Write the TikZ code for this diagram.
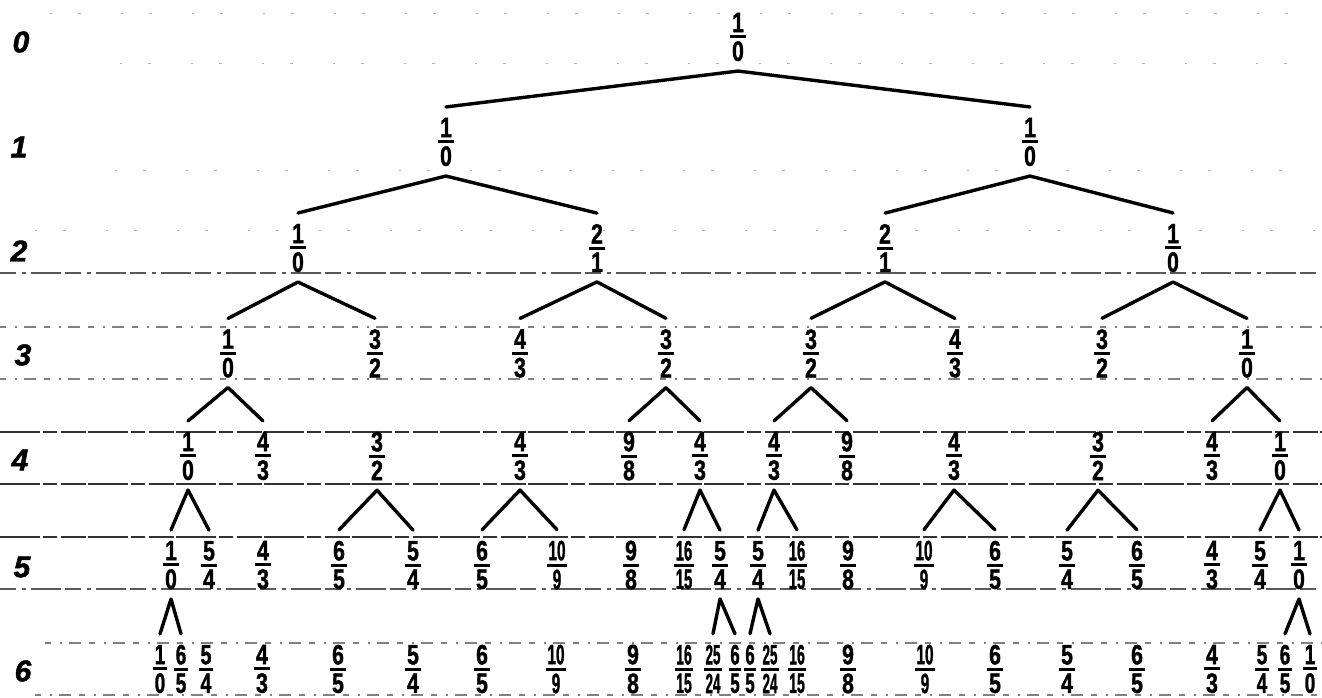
\documentclass[tikz,border=0pt]{standalone}
\usepackage{fontspec}
\setmainfont{Liberation Sans}[BoldFeatures={FakeBold=1.5}, BoldItalicFeatures={FakeBold=1.5}]
\usepackage{graphicx}
\newcommand\myfrac[3][0.76]{\scalebox{#1}[1]{\vbox{\offinterlineskip\halign{\hfil\kern2.5pt##\kern2.5pt\hfil\cr #2\cr\noalign{\kern3pt}\omit\leaders\hrule height 3pt\hfill\cr\noalign{\kern3pt}#3\cr}}}}
\tikzset{
  frac/.style={inner sep=0pt, outer sep=0pt, font=\fontsize{28}{28}\selectfont\bfseries},
  lab/.style={inner sep=0pt, outer sep=0pt, font=\fontsize{30}{30}\selectfont\bfseries\itshape},
  branch/.style={line width=3.4pt, line join=round, line cap=round},
  rulea/.style={black!80, line width=1.6pt, dash pattern=on 40pt off 3pt on 14pt off 4pt on 25pt off 2pt},
  ruleb/.style={black!65, line width=1.4pt, dash pattern=on 16pt off 6pt on 4pt off 5pt on 30pt off 4pt},
  rulec/.style={black!50, line width=1.2pt, dash pattern=on 6pt off 9pt on 2pt off 7pt on 12pt off 8pt},
  ruled/.style={black!30, line width=1pt, dash pattern=on 2pt off 26pt on 3pt off 40pt},
}
\begin{document}
\begin{tikzpicture}[x=1pt,y=-1pt]
\fill[white] (0,0) rectangle (1322,697);
\useasboundingbox (0,0) rectangle (1322,697);
% ruled paper lines
\draw[ruled] (50,13) -- (1322,13);
\draw[ruled] (120,63) -- (1322,63);
\draw[ruled] (115,170) -- (1322,170);
\draw[ruled] (35,230) -- (1322,230);
\draw[ruleb] (0,273) -- (1322,273);
\draw[rulec] (0,327) -- (1322,327);
\draw[rulec] (0,379) -- (1322,379);
\draw[rulea] (0,432) -- (1322,432);
\draw[rulea] (0,484) -- (1322,484);
\draw[rulea] (0,537) -- (1322,537);
\draw[ruleb] (0,589) -- (1322,589);
\draw[rulec] (45,643) -- (1322,643);
\draw[rulec] (35,695) -- (1322,695);
% row labels
\node[lab] (lab0) at (21,42) {0};
\node[lab] (lab1) at (19,147) {1};
\node[lab] (lab2) at (19,251) {2};
\node[lab] (lab3) at (23,355) {3};
\node[lab] (lab4) at (20,460) {4};
\node[lab] (lab5) at (22,567) {5};
\node[lab] (lab6) at (23,671) {6};
% nodes
\node[frac] (r0) at (738,37) {\myfrac{1}{0}};
\foreach \n/\x/\p/\q in {r1a/446/1/0, r1b/1030/1/0}
  \node[frac] (\n) at (\x,142) {\myfrac{\p}{\q}};
\foreach \n/\x/\p/\q in {r2a/298/1/0, r2b/597/2/1, r2c/885/2/1, r2d/1173/1/0}
  \node[frac] (\n) at (\x,248) {\myfrac{\p}{\q}};
\foreach \n/\x/\p/\q in {r3a/228/1/0, r3b/375/3/2, r3c/520/4/3, r3d/666/3/2, r3e/811/3/2, r3f/955/4/3, r3g/1102/3/2, r3h/1247/1/0}
  \node[frac] (\n) at (\x,353.5) {\myfrac{\p}{\q}};
\foreach \n/\x/\p/\q in {r4a/188/1/0, r4b/263/4/3, r4c/377/3/2, r4d/520/4/3, r4e/629/9/8, r4f/700/4/3, r4g/774/4/3, r4h/847/9/8, r4i/954/4/3, r4j/1098/3/2, r4k/1212/4/3, r4l/1280/1/0}
  \node[frac] (\n) at (\x,456) {\myfrac{\p}{\q}};
\foreach \n/\x/\p/\q/\s in {r5a/171/1/0/0.76, r5b/209/5/4/0.76, r5c/263/4/3/0.76, r5d/339/6/5/0.76, r5e/413/5/4/0.76, r5f/482/6/5/0.76, r5g/557/10/9/0.55, r5h/631/9/8/0.76, r5i/684/16/15/0.53, r5j/720/5/4/0.76, r5k/758/5/4/0.76, r5l/797/16/15/0.53, r5m/848/9/8/0.76, r5n/924/10/9/0.55, r5o/995/6/5/0.76, r5p/1067/5/4/0.76, r5q/1137/6/5/0.76, r5r/1212/4/3/0.76, r5s/1260/5/4/0.76, r5t/1299/1/0/0.76}
  \node[frac] (\n) at (\x,565) {\myfrac[\s]{\p}{\q}};
\foreach \n/\x/\p/\q/\s in {r6a/160/1/0/0.68, r6b/181/6/5/0.68, r6c/206/5/4/0.7, r6d/262/4/3/0.76, r6e/338/6/5/0.76, r6f/413/5/4/0.76, r6g/482/6/5/0.76, r6h/556/10/9/0.55, r6i/633/9/8/0.76, r6j/684/16/15/0.5, r6k/713/25/24/0.48, r6l/735/6/5/0.6, r6m/750/6/5/0.6, r6n/770/25/24/0.48, r6o/797/16/15/0.5, r6p/848/9/8/0.76, r6q/925/10/9/0.55, r6r/995/6/5/0.76, r6s/1067/5/4/0.76, r6t/1137/6/5/0.76, r6u/1212/4/3/0.76, r6v/1262/5/4/0.68, r6w/1285/6/5/0.68, r6x/1310/1/0/0.68}
  \node[frac] (\n) at (\x,669) {\myfrac[\s]{\p}{\q}};
% branches
\foreach \p/\a/\b in {r0/r1a/r1b, r1a/r2a/r2b, r1b/r2c/r2d, r2a/r3a/r3b, r2b/r3c/r3d, r2c/r3e/r3f, r2d/r3g/r3h, r3a/r4a/r4b, r3d/r4e/r4f, r3e/r4g/r4h, r3h/r4k/r4l, r4a/r5a/r5b, r4c/r5d/r5e, r4d/r5f/r5g, r4f/r5i/r5j, r4g/r5k/r5l, r4i/r5n/r5o, r4j/r5p/r5q, r4l/r5s/r5t, r5a/r6a/r6b, r5j/r6k/r6l, r5k/r6m/r6n, r5t/r6w/r6x}
  \draw[branch] ([yshift=11pt]\a.north) -- ([yshift=-10pt]\p.south) -- ([yshift=11pt]\b.north);
\end{tikzpicture}
\end{document}
